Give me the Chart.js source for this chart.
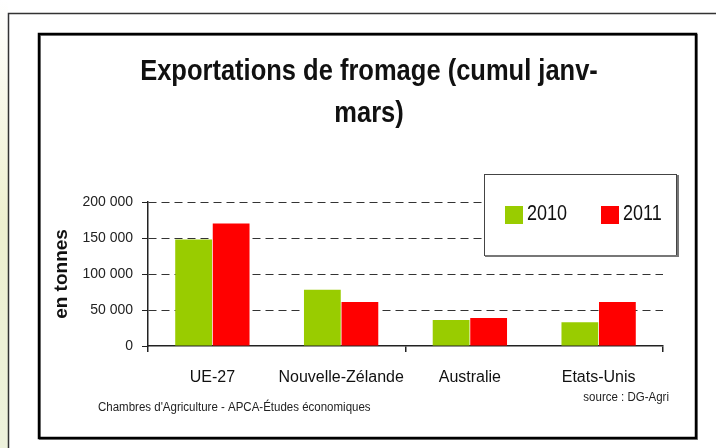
<!DOCTYPE html>
<html lang="fr">
  <head>
    <meta charset="UTF-8" />
    <script src="https://cdn.jsdelivr.net/npm/chart.js@4.4.1/dist/chart.umd.min.js"></script>
    <title>Exportations de fromage</title>
    <style>
      html, body { margin: 0; padding: 0; background: #fff; }
      #wrap { width: 716px; height: 448px; position: relative; }
    </style>
  </head>
  <body>
    <div id="wrap">
      <canvas id="myChart"></canvas>
    </div>
    <script>
      const categories = ["UE-27", "Nouvelle-Zélande", "Australie", "Etats-Unis"];
      const exports2010 = [148000, 78000, 36000, 33000];
      const exports2011 = [170000, 61000, 39000, 61000];
      const seriesNames = ["2010", "2011"];
      const seriesColors = ["#99cc00", "#ff0000"];
      const yMin = 0;
      const yMax = 200000;
      const yStep = 50000;
      const titleLines = ["Exportations de fromage (cumul janv-", "mars)"];
      const footerLeft = "Chambres d'Agriculture - APCA-Études économiques";
      const footerRight = "source : DG-Agri";

      function fmt(v) {
        return String(v).replace(/\B(?=(\d{3})+(?!\d))/g, " ");
      }

      // text drawn slightly taller than wide, like the original picture
      function tallText(ctx, text, x, y, font, sy, align) {
        ctx.save();
        ctx.font = font;
        ctx.textAlign = align || "left";
        ctx.textBaseline = "alphabetic";
        ctx.translate(x, y);
        ctx.scale(1, sy);
        ctx.fillText(text, 0, 0);
        ctx.restore();
      }

      const frame = {
        id: "frame",
        beforeDraw(chart) {
          const c = chart.ctx;
          c.save();
          c.fillStyle = "#fff";
          c.fillRect(0, 0, chart.width, chart.height);
          // strip of background picture on the left
          const g = c.createLinearGradient(0, 0, 0, chart.height);
          g.addColorStop(0, "#ffffff");
          g.addColorStop(0.25, "#f7f7e6");
          g.addColorStop(0.5, "#eef0cf");
          g.addColorStop(1, "#eef2dc");
          c.fillStyle = g;
          c.fillRect(0, 0, 8, chart.height);
          // outer frame
          c.strokeStyle = "#333";
          c.lineWidth = 1.5;
          c.beginPath();
          c.moveTo(8.5, chart.height + 2);
          c.lineTo(8.5, 13.5);
          c.lineTo(chart.width + 2, 13.5);
          c.stroke();
          // inner frame, with its grey shadow
          c.strokeStyle = "#888";
          c.lineWidth = 2;
          c.strokeRect(40, 35, 657, 404);
          c.strokeStyle = "#000";
          c.lineWidth = 2.5;
          c.strokeRect(39, 34, 657, 404);
          c.restore();
        },
        afterDraw(chart) {
          const c = chart.ctx;
          c.save();
          c.fillStyle = "#111";
          tallText(c, titleLines[0], 369, 80, "bold 25.5px 'Liberation Sans', Arial, sans-serif", 1.17, "center");
          tallText(c, titleLines[1], 369, 122, "bold 25.5px 'Liberation Sans', Arial, sans-serif", 1.17, "center");

          // legend box
          c.fillStyle = "#fff";
          c.fillRect(484, 174, 193, 82);
          c.strokeStyle = "#444";
          c.lineWidth = 1;
          c.strokeRect(484.5, 174.5, 192, 81);
          c.strokeStyle = "#777";
          c.lineWidth = 2;
          c.beginPath();
          c.moveTo(485, 256);
          c.lineTo(678, 256);
          c.lineTo(678, 175);
          c.stroke();
          const itemX = [505, 601];
          chart.data.datasets.forEach((ds, i) => {
            c.fillStyle = ds.backgroundColor;
            c.fillRect(itemX[i], 206, 18, 18);
            c.fillStyle = "#111";
            tallText(c, ds.label, itemX[i] + 22, 219.5, "18px 'Liberation Sans', Arial, sans-serif", 1.22, "left");
          });

          c.fillStyle = "#222";
          tallText(c, footerLeft, 98, 411, "11.5px 'Liberation Sans', Arial, sans-serif", 1.15, "left");
          tallText(c, footerRight, 669, 401, "11.5px 'Liberation Sans', Arial, sans-serif", 1.15, "right");
          c.restore();
        },
      };

      const ctx = document.getElementById("myChart").getContext("2d");
      const myChart = new Chart(ctx, {
        type: "bar",
        plugins: [frame],
        data: {
          labels: categories,
          datasets: [
            {
              label: seriesNames[0],
              data: exports2010,
              backgroundColor: seriesColors[0],
            },
            {
              label: seriesNames[1],
              data: exports2011,
              backgroundColor: seriesColors[1],
            },
          ],
        },
        options: {
          responsive: true,
          maintainAspectRatio: false,
          animation: false,
          categoryPercentage: 0.583,
          barPercentage: 0.98,
          layout: {
            padding: { left: 40, right: 53, top: 202, bottom: 52 },
          },
          plugins: {
            legend: { display: false },
            title: { display: false },
            tooltip: { enabled: false },
          },
          scales: {
            x: {
              afterFit: (s) => { s.height = 50; },
              grid: {
                offset: true,
                drawOnChartArea: false,
                drawTicks: true,
                tickLength: 6,
                color: (c) => (c.type === "tick" && c.index % 2 === 1 ? "rgba(0,0,0,0)" : "#222"),
                lineWidth: 1.5,
              },
              border: { display: true, color: "#222", width: 1.5 },
              ticks: {
                autoSkip: false,
                maxRotation: 0,
                minRotation: 0,
                padding: 16,
                color: "#111",
                font: { family: "'Liberation Sans', Arial, sans-serif", size: 16 },
              },
            },
            y: {
              min: yMin,
              max: yMax,
              afterFit: (s) => { s.width = 108; },
              grid: {
                color: (c) => (c.tick && c.tick.value === 0 ? "rgba(0,0,0,0)" : "#333"),
                tickColor: "#222",
                lineWidth: 1,
                drawTicks: true,
                tickLength: 6,
              },
              border: { display: true, color: "#222", width: 1.5, dash: [8, 5] },
              ticks: {
                stepSize: yStep,
                padding: 9,
                color: "#222",
                font: { family: "'Liberation Sans', Arial, sans-serif", size: 14 },
                callback: (v) => fmt(v),
              },
              title: {
                display: true,
                text: "en tonnes",
                color: "#111",
                padding: { top: 10, bottom: 0 },
                font: { family: "'Liberation Sans', Arial, sans-serif", size: 19, weight: "bold" },
              },
            },
          },
        },
      });
    </script>
  </body>
</html>
